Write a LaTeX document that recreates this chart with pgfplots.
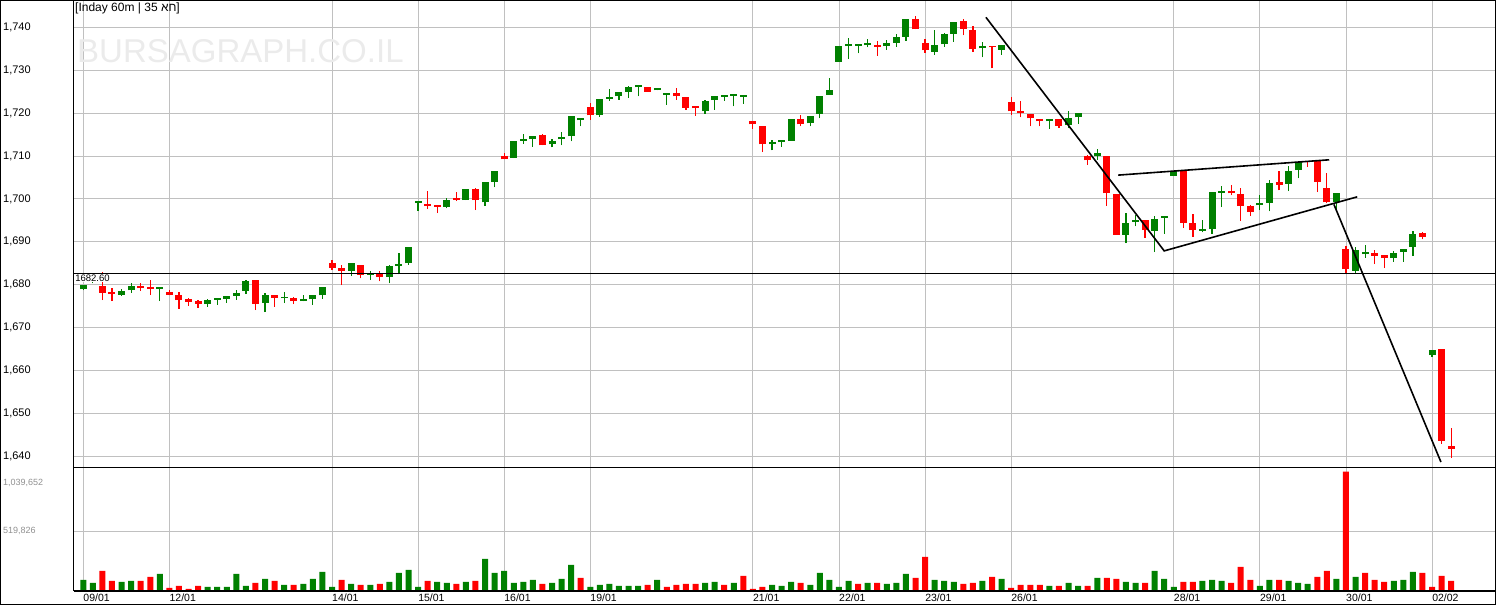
\documentclass[border=0pt]{standalone}
\usepackage{pgfplots}
\pgfplotsset{compat=1.18}
\usepackage{pgfplotstable}
\usepackage{fontspec}
\setmainfont{Liberation Sans}
\newfontfamily\hebfont[Script=Hebrew]{Liberation Sans}
\TeXXeTstate=1
\definecolor{cg}{HTML}{008000}
\definecolor{cr}{HTML}{FF0000}
\definecolor{gridc}{HTML}{C0C0C0}
\definecolor{vlab}{HTML}{909090}

% green candles: index open high low close
\pgfplotstableread{
x o h l c
0 1678.9 1680.0 1678.7 1680.0
1 1680.6 1681.6 1680.3 1681.2
4 1677.7 1679.1 1677.4 1678.6
5 1678.7 1680.5 1678.1 1679.6
8 1679.0 1679.3 1676.2 1679.3
13 1675.5 1676.6 1674.9 1676.4
14 1676.5 1676.9 1675.3 1676.8
15 1676.7 1677.4 1675.8 1677.3
16 1677.4 1678.7 1676.5 1678.0
17 1678.5 1681.0 1677.8 1680.9
19 1675.8 1678.0 1673.6 1677.5
21 1676.8 1678.2 1675.7 1677.0
23 1676.2 1677.6 1676.1 1676.6
24 1676.6 1677.5 1675.3 1677.5
25 1677.5 1679.4 1676.7 1679.4
28 1683.3 1685.1 1682.0 1685.0
30 1682.3 1683.1 1681.2 1682.6
32 1681.8 1684.5 1680.3 1684.3
33 1684.4 1687.4 1682.4 1684.7
34 1685.0 1688.7 1684.6 1688.7
35 1699.0 1699.2 1697.3 1699.2
38 1698.2 1700.2 1697.8 1699.8
40 1699.7 1702.3 1699.7 1702.2
42 1699.2 1704.0 1698.3 1704.0
43 1703.9 1706.4 1702.7 1706.4
45 1709.5 1713.6 1709.5 1713.6
46 1713.6 1715.1 1712.9 1713.9
47 1714.0 1714.7 1712.2 1714.7
49 1712.7 1714.0 1712.0 1713.6
50 1713.9 1715.7 1712.5 1714.5
51 1714.6 1719.4 1713.4 1719.4
52 1718.3 1718.5 1716.9 1718.5
54 1719.5 1723.3 1719.1 1723.3
55 1723.3 1725.7 1722.9 1723.6
56 1723.9 1725.0 1723.1 1725.0
57 1725.0 1726.4 1723.6 1726.2
58 1726.0 1726.2 1723.9 1726.2
60 1725.3 1725.9 1725.3 1725.9
61 1724.2 1724.4 1722.0 1724.4
65 1720.4 1723.1 1719.9 1722.9
66 1723.0 1724.0 1720.8 1724.0
67 1723.8 1724.0 1722.9 1724.0
68 1724.0 1724.3 1721.6 1724.3
69 1723.8 1724.0 1722.2 1724.0
72 1712.7 1713.8 1711.3 1713.3
73 1713.2 1713.8 1712.2 1713.6
74 1713.6 1718.7 1713.6 1718.7
76 1717.6 1719.3 1716.9 1719.3
77 1719.8 1724.0 1718.8 1724.0
78 1724.3 1728.2 1724.3 1725.3
79 1732.0 1735.7 1732.0 1735.7
80 1735.6 1737.5 1732.7 1735.9
81 1735.7 1736.2 1733.9 1736.0
82 1735.8 1737.2 1735.3 1736.0
84 1735.6 1737.1 1734.8 1736.4
85 1736.4 1738.5 1735.5 1737.8
86 1737.8 1741.9 1736.9 1741.9
89 1734.3 1739.4 1733.6 1735.9
90 1736.0 1738.7 1735.5 1738.5
91 1738.5 1741.2 1736.6 1741.2
94 1735.1 1736.6 1733.0 1735.4
96 1734.8 1735.9 1733.6 1735.9
101 1718.1 1718.7 1716.4 1718.7
103 1717.2 1720.5 1716.5 1718.9
104 1719.0 1720.0 1717.5 1720.0
106 1709.9 1711.7 1709.1 1710.6
109 1691.6 1696.7 1689.7 1694.5
110 1694.7 1696.2 1693.6 1695.0
112 1692.5 1696.1 1687.6 1695.4
113 1695.5 1695.8 1691.9 1695.8
114 1705.4 1706.6 1705.4 1706.6
117 1692.6 1695.2 1692.2 1692.9
118 1692.9 1701.7 1691.9 1701.5
119 1701.4 1703.1 1698.1 1701.9
123 1698.5 1700.8 1697.4 1698.8
124 1699.0 1704.3 1697.1 1703.6
126 1703.5 1707.6 1701.8 1706.4
127 1706.7 1708.6 1704.8 1708.6
131 1699.4 1701.4 1697.2 1701.4
133 1683.3 1688.9 1682.8 1688.1
134 1687.1 1689.3 1686.3 1687.5
137 1686.2 1687.8 1685.4 1687.4
138 1687.6 1688.4 1685.3 1688.4
139 1688.8 1692.6 1686.8 1691.9
141 1663.6 1664.8 1663.1 1664.7
}\gtab

% red candles: index open high low close
\pgfplotstableread{
x o h l c
2 1679.8 1683.0 1676.4 1678.1
3 1678.2 1679.3 1676.2 1677.8
6 1679.8 1680.3 1678.6 1679.3
7 1679.5 1681.0 1677.6 1679.1
9 1678.4 1678.7 1677.5 1677.7
10 1677.6 1678.4 1674.4 1676.4
11 1676.7 1676.8 1675.1 1676.0
12 1676.2 1676.4 1674.6 1675.6
18 1681.0 1681.0 1674.1 1675.5
20 1677.5 1677.5 1674.9 1677.0
22 1677.0 1677.2 1675.5 1676.2
26 1685.0 1685.7 1683.4 1683.9
27 1683.9 1684.5 1679.9 1683.3
29 1684.7 1684.7 1681.5 1682.3
31 1682.4 1683.3 1680.8 1681.8
36 1698.9 1701.9 1697.7 1698.3
37 1698.5 1698.5 1696.7 1698.2
39 1700.0 1701.6 1699.5 1699.8
41 1702.2 1702.6 1697.4 1699.7
44 1710.1 1710.7 1709.2 1709.2
48 1715.0 1715.1 1712.5 1712.5
53 1721.5 1722.4 1718.5 1719.5
59 1726.1 1726.1 1725.0 1725.0
62 1724.7 1725.9 1723.1 1723.9
63 1723.8 1723.8 1720.8 1721.3
64 1721.5 1721.5 1719.4 1721.1
70 1718.2 1718.2 1716.4 1717.4
71 1717.1 1717.1 1710.9 1712.7
75 1718.7 1719.6 1716.9 1717.4
83 1735.7 1736.7 1733.4 1735.5
87 1741.9 1742.7 1739.5 1739.5
88 1736.4 1737.3 1734.1 1734.6
92 1741.5 1742.0 1738.1 1739.7
93 1739.4 1740.3 1734.3 1735.0
95 1735.5 1735.5 1730.4 1735.3
97 1722.6 1723.8 1719.6 1720.4
98 1720.3 1722.9 1719.0 1720.0
99 1719.8 1719.8 1716.9 1718.8
100 1718.7 1718.7 1716.9 1718.1
102 1718.7 1718.7 1716.6 1717.1
105 1709.9 1710.3 1708.0 1709.0
107 1710.1 1710.1 1698.4 1701.3
108 1701.2 1701.2 1691.6 1691.6
111 1695.0 1695.0 1691.0 1692.7
115 1706.6 1706.6 1693.2 1694.5
116 1694.3 1696.6 1691.2 1692.7
120 1701.9 1703.3 1700.8 1701.3
121 1701.2 1702.6 1694.8 1698.3
122 1698.4 1698.7 1696.0 1696.9
125 1703.9 1706.6 1702.0 1703.3
128 1708.8 1708.8 1707.4 1708.5
129 1709.0 1709.0 1701.6 1703.9
130 1702.6 1706.0 1699.1 1699.2
132 1688.4 1689.0 1682.8 1683.6
135 1687.5 1688.2 1684.8 1686.8
136 1686.9 1686.9 1683.9 1686.2
140 1692.1 1692.3 1690.6 1691.1
142 1665.0 1665.0 1642.9 1643.6
143 1642.3 1646.5 1639.7 1641.8
}\rtab

% volume, up bars
\pgfplotstableread{
x v
0 93000
1 67000
4 76000
5 84000
8 145000
13 32000
14 32000
15 32000
16 145000
17 41000
19 102000
21 49000
23 58000
24 102000
25 163000
26 32000
28 58000
30 49000
32 76000
33 154000
34 180000
35 32000
37 76000
38 67000
40 76000
42 276000
43 154000
44 171000
45 67000
46 76000
47 93000
49 67000
50 102000
51 224000
53 32000
54 49000
55 58000
56 41000
57 41000
58 41000
60 93000
65 67000
66 76000
68 67000
72 49000
73 41000
74 76000
76 49000
77 154000
78 93000
79 32000
80 84000
82 67000
84 58000
85 67000
86 145000
89 93000
90 84000
91 76000
94 84000
96 102000
101 41000
103 67000
104 41000
106 110000
109 76000
110 67000
112 171000
113 102000
114 32000
117 84000
118 93000
119 84000
123 41000
124 93000
126 84000
127 67000
128 58000
131 102000
133 119000
137 84000
138 93000
139 163000
}\gvol

% volume, down bars
\pgfplotstableread{
x v
2 171000
3 84000
6 84000
7 119000
9 23000
10 41000
11 15000
12 41000
18 67000
20 84000
22 49000
27 93000
29 49000
31 58000
36 84000
39 58000
41 84000
48 58000
52 110000
59 49000
61 32000
62 49000
63 58000
64 58000
67 49000
69 128000
70 15000
71 32000
75 67000
81 58000
83 67000
87 110000
88 293000
92 58000
93 67000
95 119000
97 23000
98 49000
99 49000
100 49000
102 41000
105 41000
107 110000
108 102000
111 67000
115 76000
116 76000
120 67000
121 206000
122 93000
125 93000
129 119000
130 171000
132 1039652
134 154000
135 93000
136 76000
140 154000
141 32000
142 128000
143 84000
}\rvol

\begin{document}
\begin{tikzpicture}
\path[use as bounding box] (0,0) rectangle (1496pt,606pt);
\pgfplotsset{
  chartbase/.style={
    scale only axis, anchor=south west,
    width=1421.5pt,
    xmin=-1.024, xmax=147.58,
    axis line style={line width=1pt, black},
    major tick length=0pt,
    grid=major,
    major grid style={gridc, line width=0.9pt},
    xtick={0,9,26,35,44,53,70,79,88,97,114,123,132,141},
  },
  wick/.style={only marks, mark=*, mark size=0pt,
    mark options={draw opacity=0, fill opacity=0}, forget plot,
    error bars/.cd, y dir=plus, y explicit, error mark=none,
    error bar style={line width=1.2pt, draw=#1, draw opacity=1}},
  body/.style={only marks, mark=*, mark size=0pt,
    mark options={draw opacity=0, fill opacity=0}, forget plot,
    error bars/.cd, y dir=plus, y explicit, error mark=none,
    error bar style={line width=7pt, draw=#1, draw opacity=1}},
}
% ---------- price panel ----------
\begin{axis}[chartbase, name=price,
  at={(73.5pt,138.5pt)}, height=467pt,
  ymin=1637.4, ymax=1746.25,
  xticklabels={},
  ytick={1640,1650,1660,1670,1680,1690,1700,1710,1720,1730,1740},
  yticklabels={{1,640},{1,650},{1,660},{1,670},{1,680},{1,690},{1,700},{1,710},{1,720},{1,730},{1,740}},
  yticklabel style={anchor=west, inner sep=0pt, xshift=-70.5pt, font=\fontsize{11}{13}\selectfont},
]
\node[anchor=base west, inner sep=0pt, text=black!8, font=\fontsize{33}{33}\selectfont,
  xshift=3.5pt, yshift=-62.5pt] at (rel axis cs:0,1) {BURSAGRAPH.CO.IL};
\node[anchor=north west, inner sep=0pt, font=\fontsize{12}{14}\selectfont,
  xshift=1.5pt, yshift=-2pt] at (rel axis cs:0,1) {[Inday 60m | 35 {\hebfont\beginR חא\endR}]};

\addplot[wick=cg] table[x=x, y=l, y error plus expr=\thisrow{h}-\thisrow{l}] {\gtab};
\addplot[body=cg] table[x=x, y=o, y error plus expr={max(\thisrow{c}-\thisrow{o},0.45)}] {\gtab};
\addplot[wick=cr] table[x=x, y=l, y error plus expr=\thisrow{h}-\thisrow{l}] {\rtab};
\addplot[body=cr] table[x=x, y=c, y error plus expr={max(\thisrow{o}-\thisrow{c},0.45)}] {\rtab};

\addplot[black, line width=1pt] coordinates {(-1.024,1682.6) (147.58,1682.6)};
\node[anchor=north west, fill=white, inner sep=0.6pt, font=\fontsize{9.5}{10}\selectfont,
  xshift=1pt, yshift=-0.6pt] at (axis cs:-1.024,1682.6) {1682.60};

\addplot[black, line width=1.6pt] coordinates {(94.36,1742.34) (113.0,1687.89) (133.18,1700.49)};
\addplot[black, line width=1.6pt] coordinates {(108.19,1705.55) (130.25,1709.12)};
\addplot[black, line width=1.6pt] coordinates {(130.74,1698.72) (141.93,1638.67)};
\end{axis}

% ---------- volume panel ----------
\begin{axis}[chartbase, name=vol,
  at={(73.5pt,15.5pt)}, height=123pt,
  ymin=0, ymax=1074600,
  xticklabels={09/01,12/01,14/01,15/01,16/01,19/01,21/01,22/01,23/01,26/01,28/01,29/01,30/01,02/02},
  xticklabel style={anchor=north west, inner sep=0pt, yshift=-3pt, font=\fontsize{10.5}{12}\selectfont},
  ytick={519826}, yticklabels={519{,}826},
  yticklabel style={anchor=west, inner sep=0pt, xshift=-70.5pt, font=\fontsize{9}{10}\selectfont, text=vlab},
  scaled y ticks=false,
]
\addplot[ybar, bar width=6pt, bar shift=0pt, fill=cg, draw=none] table[x=x, y=v] {\gvol};
\addplot[ybar, bar width=6pt, bar shift=0pt, fill=cr, draw=none] table[x=x, y=v] {\rvol};
\end{axis}
\node[anchor=west, inner sep=0pt, font=\fontsize{9}{10}\selectfont, text=vlab] at ([xshift=-70.5pt, yshift=-15.5pt]vol.north west) {1,039,652};
\draw[line width=2pt] (vol.south west) -- (vol.south east);
\draw[line width=1pt] (0.5pt,2pt) rectangle (1495pt,605.5pt);
\end{tikzpicture}
\end{document}
